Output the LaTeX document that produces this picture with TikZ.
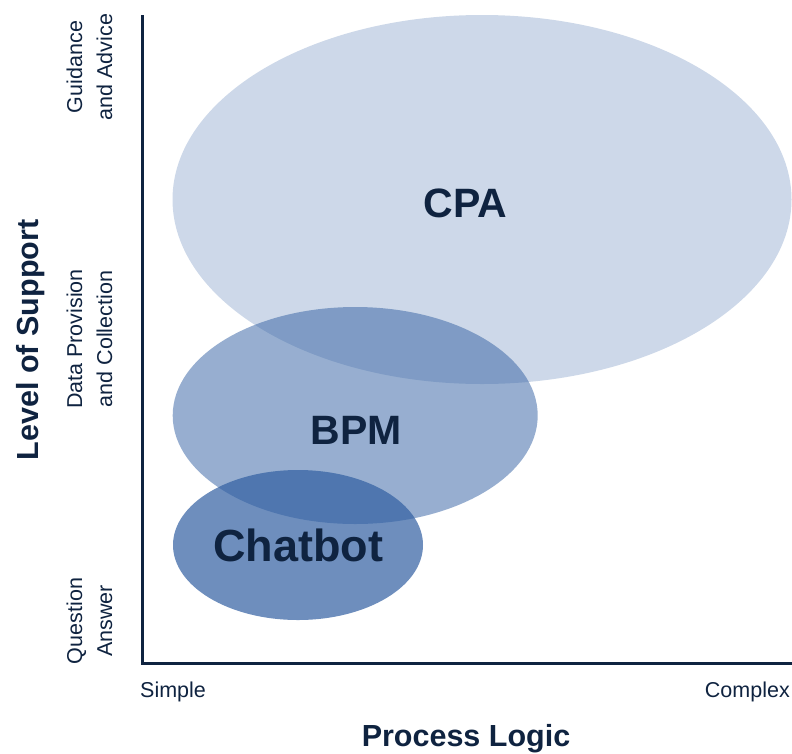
\documentclass[tikz,border=0pt]{standalone}
\usepackage{fontspec}
\setmainfont{Liberation Sans}
\definecolor{ink}{HTML}{0F2340}
\definecolor{blob}{HTML}{305EA1}
\begin{document}
\begin{tikzpicture}[x=1pt,y=-1pt,
  axisline/.style={draw=ink, line width=3pt, line join=miter},
  region/.style={fill=blob, draw=none},
  ticklabel/.style={text=ink, inner sep=0pt, align=center,
    font=\fontsize{21.5}{30}\selectfont},
  axistitle/.style={text=ink, inner sep=0pt,
    font=\fontsize{30.5}{36}\selectfont\bfseries},
  blobname/.style={text=ink, inner sep=0pt, anchor=base}]
\useasboundingbox (0,0) rectangle (792,753);

% overlapping capability regions
\fill[region, fill opacity=0.24] (482,199.5) ellipse [x radius=309.5, y radius=184.5];
\fill[region, fill opacity=0.5] (355.2,415.5) ellipse [x radius=182.5, y radius=108.5];
\fill[region, fill opacity=0.7] (298,545) ellipse [x radius=125, y radius=75];

\node[blobname, font=\fontsize{41}{48}\selectfont\bfseries] (cpa) at (465.5,217) {CPA};
\node[blobname, font=\fontsize{41}{48}\selectfont\bfseries] (bpm) at (356,444) {BPM};
\node[blobname, font=\fontsize{45}{52}\selectfont\bfseries] (chat) at (298,561) {Chatbot};

% axes
\coordinate (ytop) at (142,15);
\coordinate (origin) at (142,663);
\coordinate (xend) at (792,663);
\draw[axisline] (ytop) -- (origin) -- (xend);

% level labels on the vertical axis
\node[ticklabel, rotate=90] (guide) at (89.5,67) {Guidance\\and Advice};
\node[ticklabel, rotate=90] (data) at (89.5,339) {Data Provision\\and Collection};
\node[ticklabel, rotate=90] (qa) at (89.5,621) {Question\\Answer};

% ends of the horizontal axis
\node[ticklabel, anchor=base west] (simple) at (140,697) {Simple};
\node[ticklabel, anchor=base east] (complex) at (790,697) {Complex};

% axis titles
\node[axistitle, rotate=90, anchor=base] (ytitle) at (38,340) {Level of Support};
\node[axistitle, anchor=base] (xtitle) at (466,746) {Process Logic};
\end{tikzpicture}
\end{document}
